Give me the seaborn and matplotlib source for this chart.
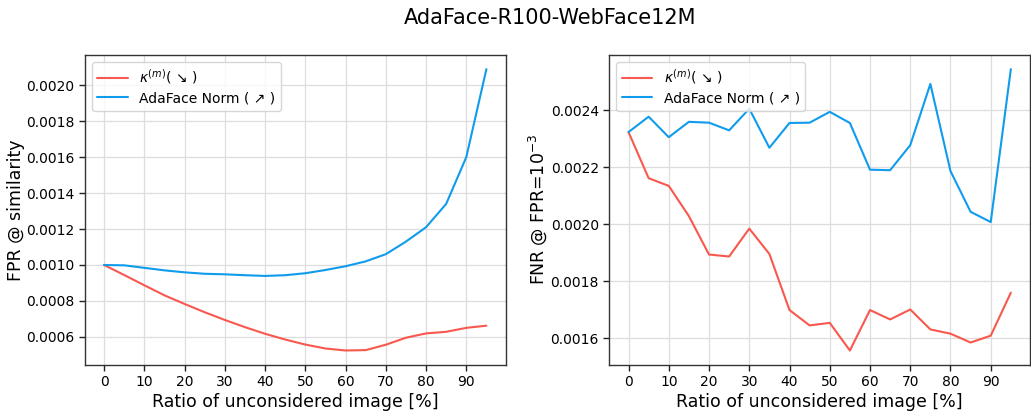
import numpy as np
import matplotlib
matplotlib.use('Agg')
import matplotlib.pyplot as plt
import pandas as pd
import seaborn as sns

sns.set_theme(style='ticks')
plt.rcParams['font.family'] = ['DejaVu Sans']
plt.rcParams.update({'text.color': 'black', 'axes.labelcolor': 'black',
                     'xtick.color': 'black', 'ytick.color': 'black'})

ratio = [0, 5, 10, 15, 20, 25, 30, 35, 40, 45, 50, 55, 60, 65, 70, 75, 80, 85, 90, 95]

fpr_kappa = [0.001000, 0.000944, 0.000887, 0.000831, 0.000783, 0.000737, 0.000694,
             0.000654, 0.000617, 0.000585, 0.000557, 0.000535, 0.000524, 0.000526,
             0.000556, 0.000595, 0.000619, 0.000628, 0.000650, 0.000662]
fpr_norm = [0.001000, 0.000998, 0.000984, 0.000970, 0.000959, 0.000951, 0.000948,
            0.000943, 0.000939, 0.000943, 0.000954, 0.000972, 0.000993, 0.001020,
            0.001060, 0.001130, 0.001210, 0.001340, 0.001600, 0.002090]

fnr_kappa = [0.002324, 0.002162, 0.002135, 0.002029, 0.001894, 0.001887, 0.001985,
             0.001896, 0.001699, 0.001645, 0.001654, 0.001557, 0.001699, 0.001666,
             0.001701, 0.001631, 0.001616, 0.001585, 0.001609, 0.001760]
fnr_norm = [0.002324, 0.002378, 0.002306, 0.002360, 0.002357, 0.002330, 0.002406,
            0.002269, 0.002356, 0.002357, 0.002395, 0.002356, 0.002192, 0.002190,
            0.002278, 0.002493, 0.002187, 0.002044, 0.002008, 0.002545]

label_kappa = r'$\kappa^{(m)}$( ↘ )'
label_norm = 'AdaFace Norm ( ↗ )'
colors = {label_kappa: '#f8584d', label_norm: '#0f9cec'}

fig, (ax1, ax2) = plt.subplots(1, 2, figsize=(10.31, 4.11), dpi=100)
fig.subplots_adjust(left=0.0824, right=0.999, bottom=0.113, top=0.866, wspace=0.247)

panels = [
    (ax1, fpr_kappa, fpr_norm, 'FPR @ similarity'),
    (ax2, fnr_kappa, fnr_norm, r'FNR @ FPR=$10^{-3}$'),
]
for ax, kappa, norm, ylabel in panels:
    df = pd.DataFrame({
        'ratio': ratio * 2,
        'value': kappa + norm,
        'method': [label_kappa] * len(ratio) + [label_norm] * len(ratio),
    })
    sns.lineplot(data=df, x='ratio', y='value', hue='method', palette=colors,
                 ax=ax, linewidth=1.5)
    ax.set_xticks(np.arange(0, 100, 10))
    ax.grid(True, color='#dddddd', linewidth=0.9)
    ax.set_axisbelow(True)
    ax.tick_params(labelsize=10, length=4, width=1, color='#222222')
    for s in ax.spines.values():
        s.set_color('#333333')
        s.set_linewidth(1.0)
    ax.set_xlabel('Ratio of unconsidered image [%]', fontsize=12.5, labelpad=3)
    ax.set_ylabel(ylabel, fontsize=12.5, labelpad=1)
    ax.legend(title=None, loc='upper left', fontsize=10, frameon=True,
              handlelength=2.2, labelspacing=0.35, borderaxespad=0.5)

fig.suptitle('AdaFace-R100-WebFace12M', fontsize=15, x=0.534, y=0.98)
fig.savefig('out.png', dpi=100)
